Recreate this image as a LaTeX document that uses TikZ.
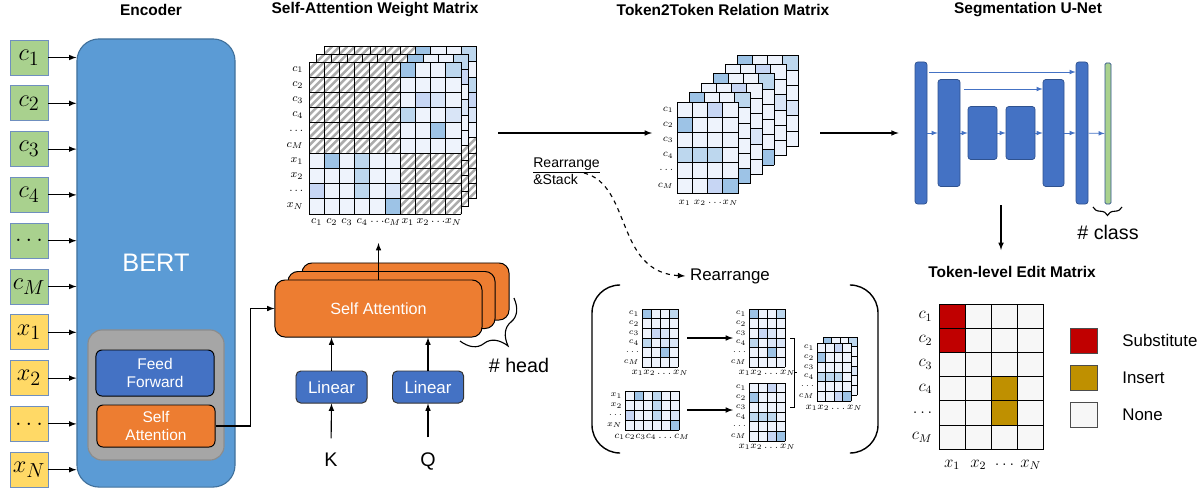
\documentclass[tikz,border=0pt]{standalone}
\usepackage[no-math]{fontspec}
\setmainfont{Liberation Sans}
\usetikzlibrary{positioning,calc,decorations.pathreplacing}

\definecolor{cellL}{HTML}{EEF3FC}
\definecolor{cellA}{HTML}{D9E5F7}
\definecolor{cellB}{HTML}{BDD7EE}
\definecolor{cellC}{HTML}{9DC3E6}
\definecolor{cellD}{HTML}{C7D6F4}
\definecolor{hatchgray}{HTML}{ABABAB}
\definecolor{cgreen}{HTML}{A9D18E}
\definecolor{xyellow}{HTML}{FFD966}
\definecolor{inborder}{HTML}{6F8FBF}
\definecolor{bertblue}{HTML}{5B9BD5}
\definecolor{bertline}{HTML}{41719C}
\definecolor{ffblue}{HTML}{4472C4}
\definecolor{ffline}{HTML}{2F528F}
\definecolor{saorange}{HTML}{ED7D31}
\definecolor{subred}{HTML}{C00000}
\definecolor{insgold}{HTML}{BF9000}
\definecolor{nonegray}{HTML}{F7F7F7}

\tikzset{
  gridline/.style={black, line width=0.6pt, line cap=rect},
  title/.style={font=\bfseries\fontsize{11}{13}\selectfont},
  inbox/.style={draw=inborder, line width=0.6pt, minimum width=0.95cm, minimum height=0.875cm, inner sep=0pt, font=\fontsize{19}{21}\selectfont},
  cbox/.style={inbox, fill=cgreen},
  xbox/.style={inbox, fill=xyellow},
  bertbox/.style={draw=bertline, fill=bertblue, line width=0.8pt, rounded corners=0.55cm, minimum width=3.95cm, minimum height=11.2cm, text=white, font=\fontsize{18}{20}\selectfont},
  graybox/.style={draw=black!45, fill=black!35, line width=0.8pt, rounded corners=0.35cm, minimum width=3.4cm, minimum height=3.25cm},
  ffbox/.style={draw=black, fill=ffblue, line width=0.7pt, rounded corners=0.15cm, minimum width=2.95cm, minimum height=1.15cm, text=white, align=center, font=\fontsize{11}{13}\selectfont, inner sep=0pt},
  sasmall/.style={ffbox, fill=saorange, minimum height=1.05cm},
  sabox/.style={draw=black, fill=saorange, line width=0.7pt, rounded corners=0.25cm, minimum width=5.175cm, minimum height=1.425cm, text=white, font=\fontsize{11.5}{13}\selectfont},
  linbox/.style={draw=black!80, fill=ffblue, line width=0.7pt, rounded corners=0.12cm, minimum width=1.775cm, minimum height=0.8cm, text=white, font=\fontsize{12}{14}\selectfont, inner sep=0pt},
  biglab/.style={font=\fontsize{14}{16}\selectfont},
  midlab/.style={font=\fontsize{12}{14}\selectfont},
  arr/.style={->, line width=0.8pt},
  uarrow/.style={->, draw=ffblue, line width=0.5pt},
  ubar/.style={draw=ffline, fill=ffblue, line width=0.5pt, rounded corners=2pt, inner sep=0pt},
  brace/.style={decorate, decoration={brace, mirror, amplitude=#1}, line width=0.8pt},
  brace/.default=4pt,
  legbox/.style={draw=black!70, line width=0.6pt, minimum width=0.675cm, minimum height=0.625cm, inner sep=0pt},
  mlab/.style={font=\fontsize{8.5}{9}\selectfont, inner sep=1pt},
  tlab/.style={font=\fontsize{7.5}{8}\selectfont, inner sep=1pt},
  slab/.style={font=\fontsize{6}{7}\selectfont, inner sep=0.5pt},
  elab/.style={font=\fontsize{12}{13}\selectfont, inner sep=1pt}
}

% token grid: [base]{x}{y}{cols}{rows}{cell w}{cell h}{col/row/colour,...}
\newcommand{\tokgrid}[8][cellL]{%
  \fill[#1] (#2,#3) rectangle ++({#4*#6},{#5*#7});
  \foreach \hc/\hr/\hf in {#8}{\fill[\hf] ({#2+\hc*#6},{#3+\hr*#7}) rectangle ++(#6,#7);}
  \foreach \i in {0,...,#4}{\draw[gridline] ({#2+\i*#6},#3) -- ++(0,{#5*#7});}
  \foreach \j in {0,...,#5}{\draw[gridline] (#2,{#3+\j*#7}) -- ++({#4*#6},0);}
}
% hatched square block: {x}{y}{size}
\newcommand{\hatchblock}[3]{%
  \fill[white] (#1,#2) rectangle ++(#3,#3);
  \begin{scope}
    \clip (#1,#2) rectangle ++(#3,#3);
    \foreach \k in {1,2,...,24}{\draw[hatchgray, line width=1.8pt] ({#1+\k*7.6-#3},{#2+#3}) -- ++(#3,-#3);}
  \end{scope}
}
% one 10x10 attention layer: {x}{y}{col/row/colour,...}
\newcommand{\attnlayer}[3]{%
  \fill[cellL] (#1,#2) rectangle ++(152,152);
  \foreach \hc/\hr/\hf in {#3}{\fill[\hf] ({#1+\hc*15.2},{#2+\hr*15.2}) rectangle ++(15.2,15.2);}
  \hatchblock{#1}{#2}{91.2}
  \hatchblock{#1+91.2}{#2+91.2}{60.8}
  \foreach \i in {0,...,10}{\draw[gridline] ({#1+\i*15.2},#2) -- ++(0,152);
    \draw[gridline] (#1,{#2+\i*15.2}) -- ++(152,0);}
}
% labels: {name}{style}{x}{y}{step}{list}
\newcommand{\rowlabs}[6]{%
  \foreach \lab [count=\i from 0] in {#6}{\node[#2, anchor=east] (#1\i) at (#3,{#4+#5*\i}) {$\lab$};}
}
\newcommand{\collabs}[6]{%
  \foreach \lab [count=\i from 0] in {#6}{\node[#2] (#1\i) at ({#3+#5*\i},#4) {$\lab$};}
}

\begin{document}
\begin{tikzpicture}[x=0.025cm, y=-0.025cm, >=latex]
\useasboundingbox (0,0) rectangle (1203,488);

% titles
\node[title] (tenc) at (151,10) {Encoder};
\node[title] (tattn) at (375,10) {Self-Attention Weight Matrix};
\node[title] (ttok) at (723,10) {Token2Token Relation Matrix};
\node[title] (tunet) at (1028,10) {Segmentation U-Net};
\node[title] (tedit) at (1012,272) {Token-level Edit Matrix};

% encoder
\node[bertbox] (bert) at (156,263) {BERT};
\node[graybox] (layer) at (156,395) {};
\node[ffbox] (ff) at (155,373) {Feed\\Forward};
\node[sasmall] (sas) at (156,426) {Self\\Attention};
\foreach \nm/\lab/\st [count=\i from 0] in {c1/c_1/cbox, c2/c_2/cbox, c3/c_3/cbox, c4/c_4/cbox, cd/\dots/cbox, cM/c_M/cbox, x1/x_1/xbox, x2/x_2/xbox, xd/\dots/xbox, xN/x_N/xbox}
{
   \node[\st] (\nm) at (29,{57.5+45.8*\i}) {$\lab$};
   \draw[arr] (\nm.east) -- (\nm.east -| bert.west);
}

% multi-head self attention
\node[sabox] (sa3) at (405.5,291.5) {};
\node[sabox] (sa2) at (391.5,300) {};
\node[sabox] (sa) at (378.5,308.5) {Self Attention};
\draw[arr] (sas.east) -- ++(35,0) |- (sa.west);
\node[linbox] (lk) at (331.5,387) {Linear};
\node[linbox] (lq) at (428,387) {Linear};
\node[biglab] (K) at (331,460) {K};
\node[biglab] (Q) at (428,461) {Q};
\draw[arr, shorten <=7pt] (K.north) -- (lk.south);
\draw[arr, shorten <=7pt] (Q.north) -- (lq.south);
\draw[arr] (lk.north) -- (lk.north |- sa.south);
\draw[arr] (lq.north) -- (lq.north |- sa.south);
\draw[brace=24pt] (460,341) -- (514,298);
\node[biglab] (nhead) at (519,365) {\# head};

% self-attention weight matrix
\attnlayer{324.4}{46.6}{6/0/cellC,9/0/cellB,9/2/cellB,9/3/cellD,9/4/cellA}
\attnlayer{316.7}{54.3}{6/0/cellC,9/0/cellB,9/1/cellD,9/3/cellA}
\attnlayer{309}{62}{6/0/cellC,9/0/cellB,7/2/cellD,8/2/cellA,6/3/cellB,9/3/cellA,8/4/cellC,1/6/cellC,3/6/cellB,3/7/cellB,0/8/cellD,3/8/cellB,5/8/cellA,5/9/cellC}
\rowlabs{ar}{mlab}{305}{69.6}{15.2}{c_1,c_2,c_3,c_4,\dots,c_M,x_1,x_2,\dots,x_N}
\collabs{ac}{mlab}{316.6}{222}{15.2}{c_1,c_2,c_3,c_4,\dots,c_M,x_1,x_2,\dots,x_N}
\coordinate (attnB) at (380,243);
\draw[arr] (sa.north) -- (sa.north |- attnB);

% token2token relation matrix
\coordinate (attnR) at (498,133);
\coordinate (t2tL) at (652,133);
\draw[arr] (attnR) -- (t2tL);
\tokgrid{737}{55}{4}{6}{15.25}{15.2}{0/0/cellC,3/0/cellB,3/3/cellA}
\tokgrid{725}{64.4}{4}{6}{15.25}{15.2}{2/0/cellD,3/2/cellA}
\tokgrid{713}{73.8}{4}{6}{15.25}{15.2}{0/0/cellC,3/0/cellB,3/5/cellC}
\tokgrid{701}{83.2}{4}{6}{15.25}{15.2}{2/0/cellD,3/3/cellA}
\tokgrid{689}{92.6}{4}{6}{15.25}{15.2}{0/0/cellC,3/0/cellB,3/5/cellC}
\tokgrid{677}{102}{4}{6}{15.25}{15.2}{2/0/cellD,0/1/cellC,0/3/cellB,1/3/cellB,2/3/cellB,2/5/cellD,3/5/cellC}
\rowlabs{tr}{tlab}{675}{109.6}{15.2}{c_1,c_2,c_3,c_4,\dots,c_M}
\collabs{tc}{tlab}{684.6}{203}{15.25}{x_1,x_2,\dots,x_N}

% rearrange and stack
\node[font=\fontsize{10}{12}\selectfont, align=left, anchor=west, inner sep=0pt] (rs) at (533,171) {\underline{Rearrange}\\\&Stack};
\node[midlab] (rlab) at (730,276) {Rearrange};
\coordinate (rsend) at (584,173);
\draw[arr, dashed] (rsend) .. controls (632,185) and (615,272) .. (rlab.west);
\draw[line width=1pt, rounded corners=0.7cm] (620,285) -- (592,285) -- (592,453) -- (620,453);
\draw[line width=1pt, rounded corners=0.7cm] (850,285) -- (878,285) -- (878,453) -- (850,453);

\tokgrid{642}{309}{4}{6}{9}{9.67}{0/0/cellC,3/0/cellB,1/2/cellD,2/2/cellA,0/3/cellB,2/3/cellA,3/3/cellA,2/4/cellC}
\rowlabs{ra}{slab}{640}{313.8}{9.67}{c_1,c_2,c_3,c_4,\dots,c_M}
\node[slab, font=\fontsize{7}{8}\selectfont] (rac) at (660,373) {$x_1x_2\dots x_N$};
\tokgrid{625}{391}{6}{4}{9}{9.75}{1/0/cellC,3/0/cellB,3/1/cellB,0/2/cellD,3/2/cellB,5/2/cellA,5/3/cellC}
\rowlabs{rb}{slab}{623}{395.9}{9.75}{x_1,x_2,\dots,x_N}
\node[slab, font=\fontsize{7}{8}\selectfont] (rbc) at (652,437) {$c_1c_2c_3c_4\dots c_M$};
\tokgrid{749}{309}{4}{6}{9}{9.67}{0/0/cellC,3/0/cellB,1/2/cellD,2/2/cellA,0/3/cellB,2/3/cellA,3/3/cellA,2/4/cellC}
\rowlabs{rc}{slab}{747}{313.8}{9.67}{c_1,c_2,c_3,c_4,\dots,c_M}
\node[slab, font=\fontsize{7}{8}\selectfont] (rcc) at (767,373) {$x_1x_2\dots x_N$};
\tokgrid{749}{383}{4}{6}{9}{9.67}{2/0/cellD,0/1/cellC,0/3/cellB,1/3/cellB,2/3/cellB,2/5/cellD,3/5/cellC}
\rowlabs{rd}{slab}{747}{387.8}{9.67}{c_1,c_2,c_3,c_4,\dots,c_M}
\node[slab, font=\fontsize{7}{8}\selectfont] (rdc) at (767,447) {$x_1x_2\dots x_N$};
\coordinate (raR) at (687,338);
\coordinate (rcL) at (733,338);
\coordinate (rbR) at (687,410);
\coordinate (rdL) at (733,410);
\draw[arr] (raR) -- (rcL);
\draw[arr] (rbR) -- (rdL);
\draw[line width=0.6pt] (790,338) -- (794,338) -- (794,407) -- (790,407);
\draw[line width=0.6pt] (794,372) -- (797,372);
\tokgrid{823}{337}{4}{6}{8.5}{9.67}{0/0/cellC,3/0/cellB,3/3/cellA}
\tokgrid{817}{343}{4}{6}{8.5}{9.67}{2/0/cellD,0/1/cellC,0/3/cellB,1/3/cellB,2/3/cellB,2/5/cellD,3/5/cellC}
\rowlabs{re}{slab}{815}{347.8}{9.67}{c_1,c_2,c_3,c_4,\dots,c_M}
\node[slab, font=\fontsize{7}{8}\selectfont] (rec) at (834,408) {$x_1x_2\dots x_N$};

% segmentation u-net
\coordinate (t2tR) at (820,133);
\node[ubar, minimum width=0.3cm, minimum height=3.55cm] (u1) at (921,133) {};
\node[ubar, minimum width=0.55cm, minimum height=2.675cm] (u2) at (949,133) {};
\node[ubar, minimum width=0.725cm, minimum height=1.325cm] (u3) at (982.5,133) {};
\node[ubar, minimum width=0.725cm, minimum height=1.325cm] (u4) at (1020.5,133) {};
\node[ubar, minimum width=0.525cm, minimum height=2.675cm] (u5) at (1053.5,133) {};
\node[ubar, minimum width=0.3cm, minimum height=3.55cm] (u6) at (1082,133) {};
\node[ubar, fill=cgreen, rounded corners=1pt, minimum width=0.15cm, minimum height=3.525cm] (ucls) at (1108,133.5) {};
\draw[arr] (t2tR) -- ([xshift=-0.4cm]u1.west);
\draw[uarrow] (u1) -- (u2);
\draw[uarrow] (u2) -- (u3);
\draw[uarrow] (u3) -- (u4);
\draw[uarrow] (u4) -- (u5);
\draw[uarrow] (u5) -- (u6);
\draw[uarrow] (u6) -- (ucls);
\coordinate (sk1) at (0,72);
\coordinate (sk2) at (0,89);
\draw[uarrow] ([xshift=1.5pt]u1.east |- sk1) -- (u6.west |- sk1);
\draw[uarrow] ([xshift=2.5pt]u2.east |- sk2) -- (u5.west |- sk2);
\draw[brace=6pt] (1093,207) -- (1122,207);
\node[biglab] (ncls) at (1108,232) {\# class};
\coordinate (uout) at (1001,205);
\coordinate (edin) at (1001,250);
\draw[arr] (uout) -- (edin);

% token-level edit matrix
\tokgrid[nonegray]{939}{304}{4}{6}{26.2}{24.2}{0/0/subred,0/1/subred,2/3/insgold,2/4/insgold}
\rowlabs{er}{elab}{934}{316.1}{24.2}{c_1,c_2,c_3,c_4,\dots,c_M}
\collabs{ec}{elab}{952.1}{465}{26.2}{x_1,x_2,\dots,x_N}
\node[legbox, fill=subred] (lsub) at (1083.5,340.5) {};
\node[legbox, fill=insgold] (lins) at (1083.5,378) {};
\node[legbox, fill=nonegray] (lnone) at (1083.5,415) {};
\node[midlab, right=0.5cm of lsub] (tsub) {Substitute};
\node[midlab, right=0.5cm of lins] (tins) {Insert};
\node[midlab, right=0.5cm of lnone] (tnone) {None};
\end{tikzpicture}
\end{document}
